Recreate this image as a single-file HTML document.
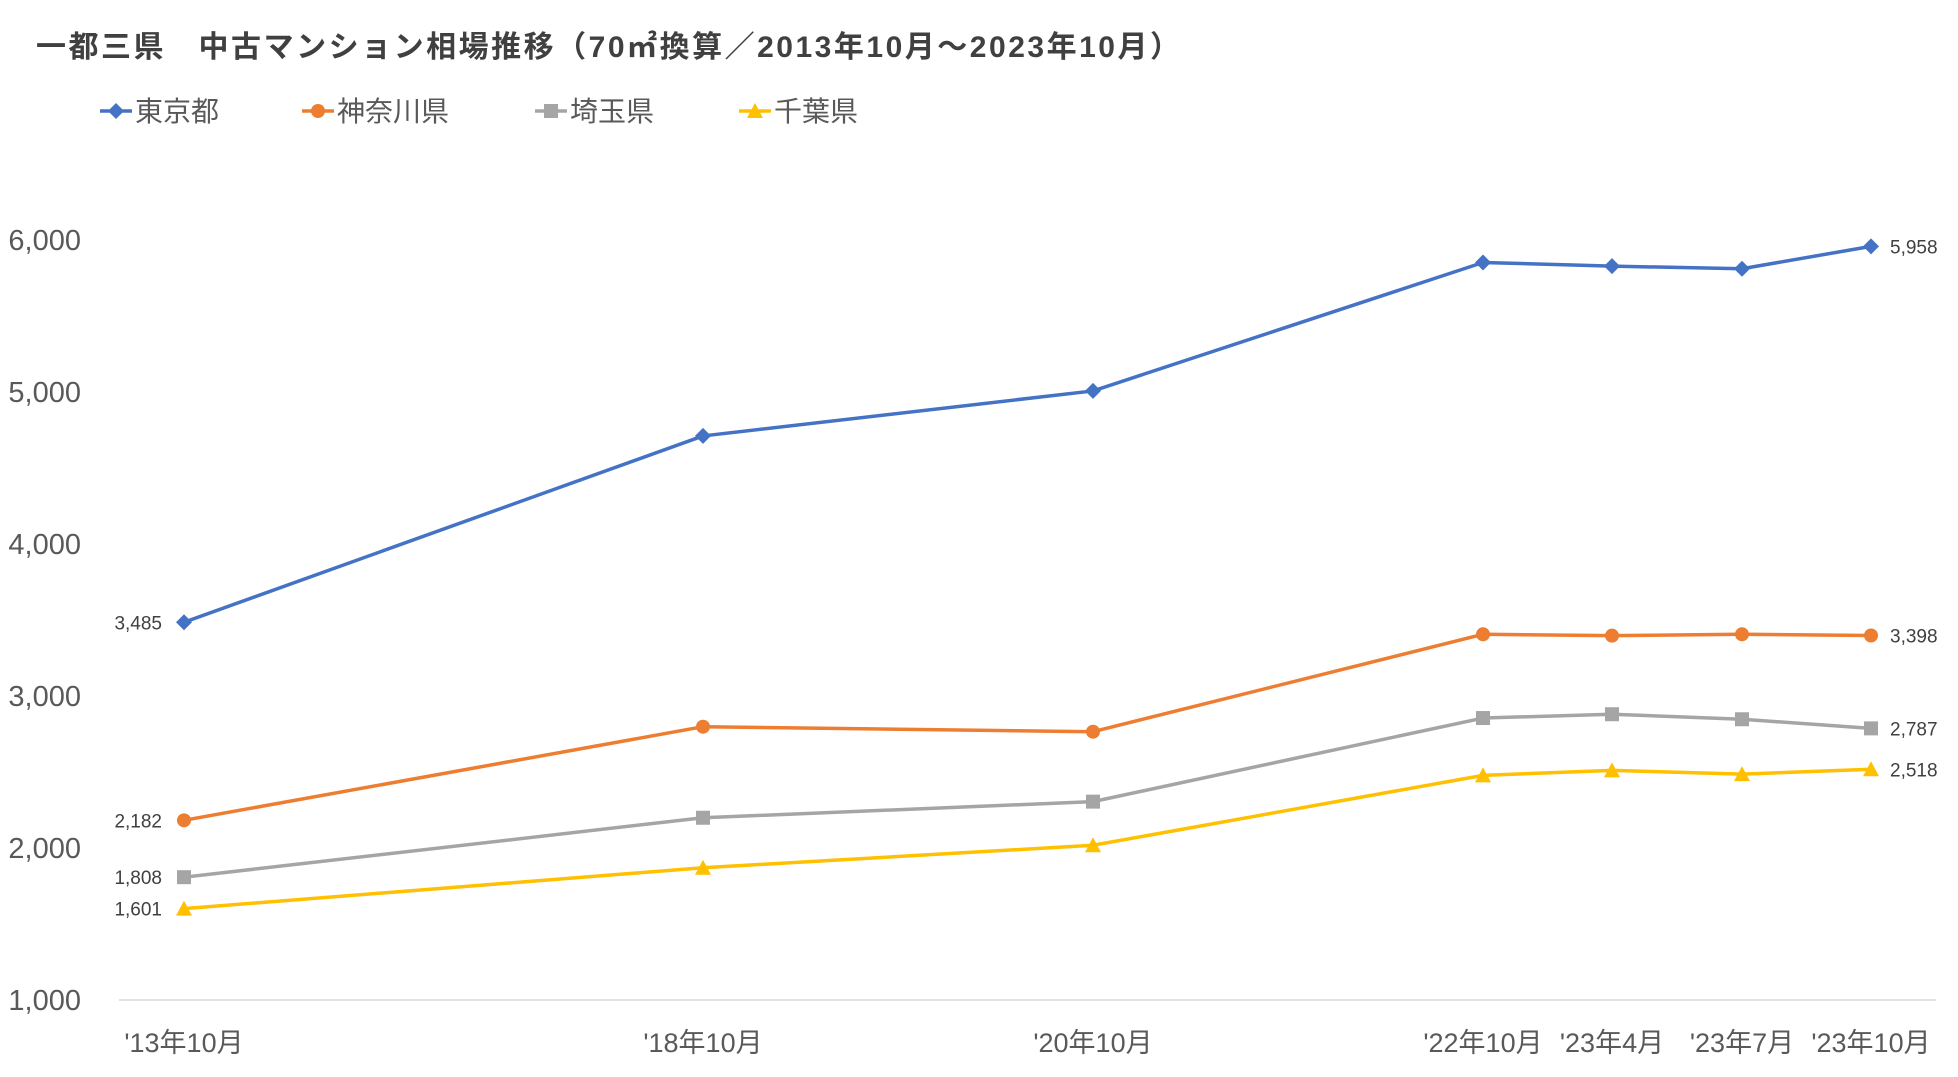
<!DOCTYPE html>
<html><head><meta charset="utf-8"><style>
html,body{margin:0;padding:0;background:#fff;width:1958px;height:1077px;overflow:hidden}
svg text{font-family:"Liberation Sans","Noto Sans CJK JP",sans-serif}
</style></head><body>
<svg id="chart" width="1958" height="1077" xmlns="http://www.w3.org/2000/svg">
<text x="36" y="57" font-size="30" font-weight="bold" fill="#404040" textLength="1144" lengthAdjust="spacing">一都三県　中古マンション相場推移（70㎡換算／2013年10月～2023年10月）</text>
<g id="legend"></g>
<g id="yaxis"></g>
<g id="xaxis"></g>
<g id="plot"></g>
</svg>
<script>
const categories=["'13年10月","'18年10月","'20年10月","'22年10月","'23年4月","'23年7月","'23年10月"];
const tokyo=[3485,4711,5007,5852,5828,5811,5958];
const kanagawa=[2182,2798,2765,3406,3397,3406,3398];
const saitama=[1808,2199,2305,2855,2880,2847,2787];
const chiba=[1601,1870,2018,2478,2511,2486,2518];
const yTicks=[1000,2000,3000,4000,5000,6000];
const seriesNames=["東京都","神奈川県","埼玉県","千葉県"];
const xPos=[184,703,1093,1483,1612,1742,1871];
const NS="http://www.w3.org/2000/svg";
function y(v){return 1000-(v-1000)*0.152;}
function x(i){return xPos[i];}
function mk(tag,attrs,parent){const e=document.createElementNS(NS,tag);for(const k in attrs)e.setAttribute(k,attrs[k]);parent.appendChild(e);return e;}
const ya=document.getElementById('yaxis'),xa=document.getElementById('xaxis'),plot=document.getElementById('plot'),lg=document.getElementById('legend');
yTicks.forEach(t=>{const tx=mk('text',{x:81,y:y(t)+10,'font-size':29,fill:'#595959','text-anchor':'end'},ya);tx.textContent=t.toLocaleString('en-US');

});
const ax=mk('line',{x1:119,x2:1936,y1:1000,y2:1000,stroke:'#d9d9d9','stroke-width':1.5},xa);


categories.forEach((c,i)=>{const tx=mk('text',{x:x(i),y:1052,'font-size':27,fill:'#595959','text-anchor':'middle'},xa);tx.textContent=c;

});
function marker(type,cx,cy,col,g){
 if(type==='d')return mk('polygon',{points:`${cx},${cy-8} ${cx+8},${cy} ${cx},${cy+8} ${cx-8},${cy}`,fill:col},g);
 if(type==='c')return mk('circle',{cx:cx,cy:cy,r:7,fill:col},g);
 if(type==='s')return mk('rect',{x:cx-7,y:cy-7,width:14,height:14,fill:col},g);
 return mk('polygon',{points:`${cx},${cy-8} ${cx+8},${cy+7} ${cx-8},${cy+7}`,fill:col},g);
}
const series=[[tokyo,'#4472C4','d','tokyo'],[kanagawa,'#ED7D31','c','kanagawa'],[saitama,'#A5A5A5','s','saitama'],[chiba,'#FFC000','t','chiba']];
series.forEach(([d,col,m,n])=>{
 const g=mk('g',{},plot);
 
 
 const ln=mk('polyline',{points:d.map((v,i)=>x(i)+','+y(v)).join(' '),fill:'none',stroke:col,'stroke-width':3.5,'stroke-linejoin':'round'},g);
 
 
 d.forEach((v,i)=>{const p=marker(m,x(i),y(v),col,g);
  
  });
 const l1=mk('text',{x:162,y:y(d[0])+7,'font-size':19,fill:'#404040','text-anchor':'end'},g);l1.textContent=d[0].toLocaleString('en-US');
 
 
 const last=d.length-1;
 const l2=mk('text',{x:1890,y:y(d[last])+7,'font-size':19,fill:'#404040'},g);l2.textContent=d[last].toLocaleString('en-US');
 
 
});
const lx=[[100,135],[302,337],[535,570],[739,774]];
series.forEach(([d,col,m,n],i)=>{
 const g=mk('g',{},lg);
 
 
 mk('line',{x1:lx[i][0],x2:lx[i][0]+32,y1:111,y2:111,stroke:col,'stroke-width':3.5},g);
 marker(m,lx[i][0]+16,111,col,g);
 const t=mk('text',{x:lx[i][1],y:121,'font-size':28,fill:'#595959'},g);t.textContent=seriesNames[i];
});
</script>
</body></html>
